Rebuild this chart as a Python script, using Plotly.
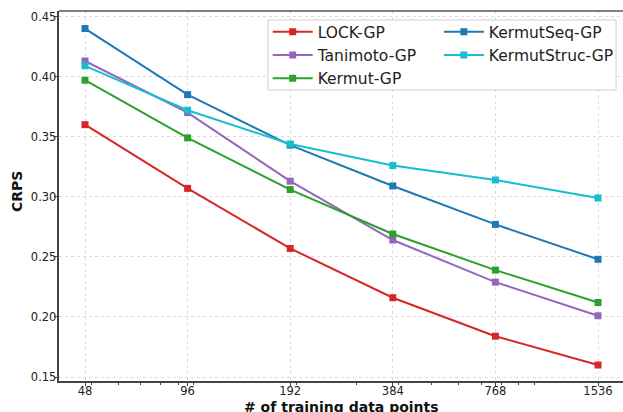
import math
import plotly.graph_objects as go

# Training-set sizes and mean CRPS per model
train_sizes = [48, 96, 192, 384, 768, 1536]
lock_gp = [0.360, 0.307, 0.257, 0.216, 0.184, 0.160]
tanimoto_gp = [0.413, 0.370, 0.313, 0.264, 0.229, 0.201]
kermut_gp = [0.397, 0.349, 0.306, 0.269, 0.239, 0.212]
kermutseq_gp = [0.440, 0.385, 0.343, 0.309, 0.277, 0.248]
kermutstruc_gp = [0.409, 0.372, 0.344, 0.326, 0.314, 0.299]

x_ticks = [48, 96, 192, 384, 768, 1536]
y_ticks = [0.15, 0.20, 0.25, 0.30, 0.35, 0.40, 0.45]
minor_x = [50, 60, 70, 80, 90, 100, 200, 300, 400, 500, 600, 700, 800, 900, 1000]

series = [
    ("LOCK-GP", lock_gp, "#d62728", "legend"),
    ("Tanimoto-GP", tanimoto_gp, "#9467bd", "legend"),
    ("Kermut-GP", kermut_gp, "#2ca02c", "legend"),
    ("KermutSeq-GP", kermutseq_gp, "#1f77b4", "legend2"),
    ("KermutStruc-GP", kermutstruc_gp, "#17becf", "legend2"),
]

FONT = "DejaVu Sans"

fig = go.Figure()
for name, vals, color, leg in series:
    fig.add_trace(go.Scatter(
        x=train_sizes, y=vals, name=name, mode="lines+markers",
        line=dict(color=color, width=2),
        marker=dict(symbol="square", size=7, color=color),
        legend=leg,
    ))

x_lo = math.log10(48) - 0.2534 * math.log10(2)
x_hi = math.log10(1536) + 0.2436 * math.log10(2)

legend_style = dict(
    xanchor="left", yanchor="top",
    bgcolor="rgba(0,0,0,0)", borderwidth=0,
    font=dict(size=15.5, family=FONT, color="#222"),
    tracegroupgap=0, itemwidth=40,
)

fig.update_layout(
    width=623, height=412,
    margin=dict(l=59, r=0, t=11, b=31),
    paper_bgcolor="white", plot_bgcolor="white",
    font=dict(family=FONT, color="#222", size=11.5),
    xaxis=dict(
        type="log", range=[x_lo, x_hi],
        tickvals=x_ticks, ticktext=[str(v) for v in x_ticks],
        ticks="outside", ticklen=3.5, tickwidth=1, tickcolor="#444",
        ticklabelstandoff=-5,
        showline=True, linecolor="#444", linewidth=1.5,
        showgrid=True, gridcolor="#dcdcdc", griddash="dot", gridwidth=1,
        minor=dict(tickvals=minor_x, ticks="outside", ticklen=2, tickcolor="#444",
                   showgrid=False),
        zeroline=False,
        automargin=False,
    ),
    yaxis=dict(
        range=[0.1467, 0.4546],
        tickvals=y_ticks, ticktext=[f"{v:.2f}" for v in y_ticks],
        ticks="outside", ticklen=3.5, tickwidth=1, tickcolor="#444",
        ticklabelstandoff=-5,
        showline=True, linecolor="#444", linewidth=1.5,
        showgrid=True, gridcolor="#dcdcdc", griddash="dot", gridwidth=1,
        zeroline=False,
        automargin=False,
    ),
    legend=dict(x=0.370, y=0.9885, **legend_style),
    legend2=dict(x=0.6735, y=0.9885, **legend_style),
    annotations=[
        dict(text="<b># of training data points</b>", xref="paper", yref="paper",
             x=0.5, y=0, yshift=-26, xanchor="center", yanchor="middle",
             showarrow=False, font=dict(size=14, color="#111")),
        dict(text="<b>CRPS</b>", xref="paper", yref="paper",
             x=0, y=0.5, xshift=-42, yshift=4, xanchor="center", yanchor="middle",
             textangle=-90, showarrow=False, font=dict(size=14, color="#111")),
    ],
    shapes=[
        # legend frame
        dict(type="rect", xref="paper", yref="paper",
             x0=0.3706, x1=0.9876, y0=0.7865, y1=0.9757,
             line=dict(color="#d0d0d0", width=1),
             fillcolor="rgba(255,255,255,0.85)", layer="above"),
        # top spine
        dict(type="line", xref="paper", yref="paper", x0=0, x1=1, y0=1, y1=1,
             line=dict(color="black", width=1)),
    ],
)

fig.write_html("out.html")
